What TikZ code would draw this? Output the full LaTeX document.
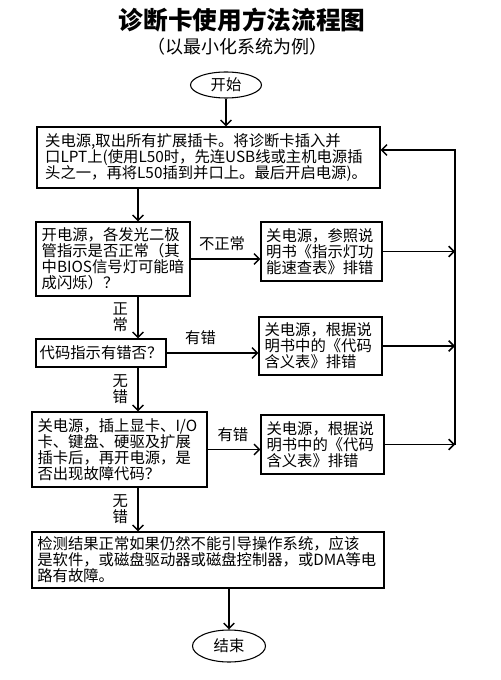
\documentclass[tikz,border=0pt]{standalone}
\usepackage{fontspec}
\setmainfont{Noto Sans CJK SC}
\usetikzlibrary{shapes.geometric,arrows.meta}
\begin{document}
\begin{tikzpicture}[x=0.75pt,y=-0.75pt,
   box/.style={draw,line width=0.9pt,align=left,inner sep=0pt,font=\fontsize{11.5}{12}\selectfont},
   term/.style={draw,ellipse,line width=0.8pt,inner sep=0pt,font=\fontsize{11.5}{12}\selectfont},
   lab/.style={align=center,inner sep=1pt,font=\fontsize{11.5}{12}\selectfont},
   line/.style={line width=1.1pt,-{Straight Barb[length=4pt,width=8pt]}}]
   \useasboundingbox (0,0) rectangle (500,680);
   \node[font=\bfseries\fontsize{18.5}{20}\selectfont] (title) at (242,20) {诊断卡使用方法流程图};
   \node[font=\fontsize{13.5}{14}\selectfont] (sub) at (237,47) {（以最小化系统为例）};
   \node[term,minimum width=53.25pt,minimum height=19.5pt] (start) at (226,85) {开始};
   \node[box,minimum width=257.25pt,minimum height=45.75pt,text width=245pt] (st1) at (208.5,157.5)
      {关电源,取出所有扩展插卡。将诊断卡插入并\\口LPT上(使用L50时，先连USB线或主机电源插\\头之一，再将L50插到并口上。最后开启电源)。};
   \node[box,minimum width=115.5pt,minimum height=55.5pt,text width=107pt] (q1) at (113,259)
      {开电源，各发光二极\\管指示是否正常（其\\中BIOS信号灯可能暗\\成闪烁）？};
   \node[box,minimum width=97.5pt,minimum height=21pt] (q2) at (101,353) {代码指示有错否？};
   \node[box,minimum width=131.25pt,minimum height=56.25pt,text width=123pt] (q3) at (119.5,449.5)
      {关电源，插上显卡、I/O\\卡、键盘、硬驱及扩展\\插卡后，再开电源，是\\否出现故障代码？};
   \node[box,minimum width=264pt,minimum height=42pt,text width=256pt] (res) at (208,560)
      {检测结果正常如果仍然不能引导操作系统，应该\\是软件，或磁盘驱动器或磁盘控制器，或DMA等电\\路有故障。};
   \node[box,minimum width=90.75pt,minimum height=44.25pt,text width=83pt] (fa) at (321.5,251.5)
      {关电源，参照说\\明书《指示灯功\\能速查表》排错};
   \node[box,minimum width=92.25pt,minimum height=43.5pt,text width=84pt] (fb) at (320.5,346)
      {关电源，根据说\\明书中的《代码\\含义表》排错};
   \node[box,minimum width=92.25pt,minimum height=44.25pt,text width=84pt] (fc) at (322.5,444.5)
      {关电源，根据说\\明书中的《代码\\含义表》排错};
   \node[term,minimum width=54.75pt,minimum height=24pt] (fin) at (229,646) {结束};
   \coordinate (col) at (138,0);
   \coordinate (rail) at (455,150);
   \draw[line] (start) -- (start |- st1.north);
   \draw[line] (st1.south -| col) -- (q1.north -| col);
   \draw[line] (q1.south -| col) -- node[lab,left=6pt]{正\\常} (q2.north -| col);
   \draw[line] (q2.south -| col) -- node[lab,left=6pt]{无\\错} (q3.north -| col);
   \draw[line] (q3.south -| col) -- node[lab,left=6pt]{无\\错} (res.north -| col);
   \draw[line] (res.south -| fin) -- (fin);
   \draw[line] (q1.east) -- node[lab,above=5pt,pos=0.45]{不正常} (q1.east -| fa.west);
   \draw[line] (q2.east) -- node[lab,above=4.5pt,pos=0.37]{有错} (q2.east -| fb.west);
   \draw[line] (q3.east) -- node[lab,above=4.5pt,pos=0.48]{有错} (q3.east -| fc.west);
   \draw[line] (fa.east) -- (fa.east -| rail);
   \draw[line] (fb.east) -- (fb.east -| rail);
   \draw[line] (fc.east) -- (fc.east -| rail);
   \draw[line] (fc.east -| rail) -- (rail) -- (rail -| st1.east);
\end{tikzpicture}
\end{document}
